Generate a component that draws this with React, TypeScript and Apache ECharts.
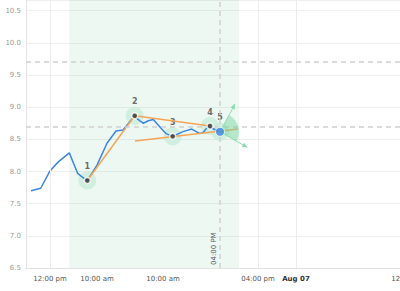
import React, { useEffect, useRef } from 'react';
import * as echarts from 'echarts';

// time position (arbitrary units along the axis) and value of the measured line
const blueT = [5, 14.7, 24, 32.3, 43.3, 51.7, 55.7, 61.3, 71, 81, 90, 97, 108.7, 112, 117.3, 122.3, 127.3, 135.7, 140, 146.7, 157, 165.7, 174, 177.3, 182, 194];
const blueV = [7.70, 7.74, 8.01, 8.15, 8.29, 7.97, 7.92, 7.86, 8.10, 8.44, 8.63, 8.645, 8.867, 8.81, 8.75, 8.79, 8.81, 8.66, 8.59, 8.547, 8.62, 8.66, 8.59, 8.61, 8.70, 8.618];

// numbered markers
const markerT = [61.3, 108.7, 146.7, 184, 194];
const markerV = [7.86, 8.867, 8.547, 8.707, 8.618];
const markerLabels = ['1', '2', '3', '4', '5'];
const markerKind = ['dot', 'dot', 'dot', 'dot', 'current'];

// orange trend segments: [t0, v0, t1, v1]
const orangeSegments = [
  [61.3, 7.86, 108.7, 8.867],
  [108.7, 8.867, 184, 8.707],
  [109, 8.473, 212, 8.66],
];

// fan at the current point: centre, upper tip, lower tip
const fanCenter = [194, 8.618];
const fanTipUp = [209, 9.049];
const fanTipDown = [221.3, 8.376];

// reference lines
const hLines = [9.7, 8.7];
const vLineT = 194;
const vLineLabel = '04:00 PM';
const shadeRange = [43.3, 213];
const vGridT = [24, 232, 270, 382];

// x tick labels
const xTickT = [24, 71, 137, 232, 270, 382];
const xTickLabels = ['12:00 pm', '10:00 am', '10:00 am', '04:00 pm', 'Aug 07', '12:00 am'];
const xBold = [false, false, false, false, true, false];

const Y_MIN = 6.5;
const Y_MAX = 10.667;
const Y_INTERVAL = 0.5;
const X_MAX = 394;

const FONT = 'DejaVu Sans';

export default function App() {
  const ref = useRef<HTMLDivElement>(null);
  useEffect(() => {
    if (!ref.current) return;
    const chart = echarts.init(ref.current, null, { renderer: 'svg' });

    const blueData = blueT.map((t, i) => [t, blueV[i]]);
    const markerData = markerT.map((t, i) => [t, markerV[i]]);

    const orangeSeries = orangeSegments.map((s) => ({
      type: 'line',
      data: [[s[0], s[1]], [s[2], s[3]]],
      symbol: 'none',
      lineStyle: { color: '#f5a455', width: 1.5 },
      z: 4,
      silent: true,
    }));

    const option: any = {
      animation: false,
      textStyle: { fontFamily: FONT },
      grid: { left: 26, right: -20, top: 0, bottom: 23, containLabel: false, outerBoundsMode: 'none' },
      xAxis: {
        type: 'value',
        min: 0,
        max: X_MAX,
        axisLine: { show: true, lineStyle: { color: '#e2e2e2' } },
        axisTick: { show: false, customValues: xTickT },
        splitLine: { show: false },
        axisLabel: {
          customValues: xTickT,
          fontSize: 7,
          color: '#555',
          margin: 7,
          formatter: (v: number) => {
            const i = xTickT.indexOf(v);
            if (i < 0) return '';
            return xBold[i] ? '{b|' + xTickLabels[i] + '}' : xTickLabels[i];
          },
          rich: { b: { fontWeight: 'bold', fontSize: 7, color: '#333', fontFamily: FONT } },
        },
      },
      yAxis: {
        type: 'value',
        min: Y_MIN,
        max: Y_MAX,
        interval: Y_INTERVAL,
        axisLine: { show: true, lineStyle: { color: '#e6e6e6' } },
        axisTick: { show: false },
        splitLine: { show: true, lineStyle: { color: '#efefef' } },
        axisLabel: {
          fontSize: 7,
          color: '#999',
          margin: 5,
          showMaxLabel: false,
          formatter: (v: number) => v.toFixed(1),
        },
      },
      series: [
        {
          type: 'line',
          data: [],
          silent: true,
          z: 1,
          markArea: {
            silent: true,
            itemStyle: { color: 'rgba(90,190,140,0.1)' },
            data: [[{ xAxis: shadeRange[0] }, { xAxis: shadeRange[1] }]],
          },
          markLine: {
            silent: true,
            symbol: 'none',
            label: { show: false },
            lineStyle: { color: '#ececec', width: 1, type: 'solid' },
            data: vGridT.map((t) => ({ xAxis: t })),
          },
        },
        {
          type: 'line',
          data: [],
          silent: true,
          z: 2,
          markLine: {
            silent: true,
            symbol: 'none',
            lineStyle: { color: '#cfcfcf', width: 1.5, type: [5, 4] },
            data: [
              ...hLines.map((v) => ({ yAxis: v, label: { show: false } })),
              {
                xAxis: vLineT,
                label: {
                  show: true,
                  formatter: vLineLabel,
                  position: 'insideStartTop',
                  fontSize: 7,
                  color: '#555',
                  fontFamily: FONT,
                  distance: 3,
                },
              },
            ],
          },
        },
        {
          type: 'scatter',
          data: markerData,
          symbolSize: 18,
          itemStyle: { color: '#c9ecd8' },
          z: 2,
          silent: true,
          label: {
            show: true,
            position: 'top',
            distance: 1,
            fontSize: 8,
            fontWeight: 'bold',
            color: '#444',
            fontFamily: FONT,
            formatter: (p: any) => markerLabels[p.dataIndex],
          },
        },
        {
          type: 'line',
          data: blueData,
          symbol: 'none',
          lineStyle: { color: '#3b86e3', width: 1.5 },
          z: 3,
          silent: true,
        },
        ...orangeSeries,
        {
          type: 'custom',
          coordinateSystem: 'cartesian2d',
          silent: true,
          z: 5,
          data: [[fanCenter[0], fanCenter[1], fanTipUp[0], fanTipUp[1], fanTipDown[0], fanTipDown[1]]],
          encode: { x: 0, y: 1 },
          renderItem: (params: any, api: any) => {
            const c = api.coord([api.value(0), api.value(1)]);
            const a = api.coord([api.value(2), api.value(3)]);
            const b = api.coord([api.value(4), api.value(5)]);
            const angA = Math.atan2(a[1] - c[1], a[0] - c[0]);
            const angB = Math.atan2(b[1] - c[1], b[0] - c[0]);
            const head = (p: number[], ang: number) => {
              const L = 5, W = 2.5;
              const bx = p[0] - L * Math.cos(ang), by = p[1] - L * Math.sin(ang);
              const nx = -Math.sin(ang) * W, ny = Math.cos(ang) * W;
              return [[p[0], p[1]], [bx + nx, by + ny], [bx - nx, by - ny]];
            };
            const col = '#8fdcb3';
            return {
              type: 'group',
              children: [
                {
                  type: 'sector',
                  shape: { cx: c[0], cy: c[1], r0: 0, r: 19, startAngle: angA, endAngle: angB, clockwise: true },
                  style: { fill: 'rgba(110,210,155,0.45)' },
                },
                { type: 'line', shape: { x1: c[0], y1: c[1], x2: a[0], y2: a[1] }, style: { stroke: col, lineWidth: 1 } },
                { type: 'line', shape: { x1: c[0], y1: c[1], x2: b[0], y2: b[1] }, style: { stroke: col, lineWidth: 1 } },
                { type: 'polygon', shape: { points: head(a, angA) }, style: { fill: col } },
                { type: 'polygon', shape: { points: head(b, angB) }, style: { fill: col } },
              ],
            };
          },
        },
        {
          type: 'scatter',
          silent: true,
          z: 6,
          data: markerData
            .map((d, i) => ({ value: d, kind: markerKind[i] }))
            .filter((d) => d.kind === 'dot')
            .map((d) => d.value),
          symbolSize: 6,
          itemStyle: { color: '#333', borderColor: '#fff', borderWidth: 1.5 },
        },
        {
          type: 'scatter',
          silent: true,
          z: 7,
          data: markerData.filter((_, i) => markerKind[i] === 'current'),
          symbolSize: 9,
          itemStyle: { color: '#3b86e3', borderColor: '#fff', borderWidth: 1 },
        },
      ],
    };
    chart.setOption(option);
    return () => chart.dispose();
  }, []);
  return <div ref={ref} style={{ width: 400, height: 291, position: 'absolute', left: 0, top: 0 }} />;
}
